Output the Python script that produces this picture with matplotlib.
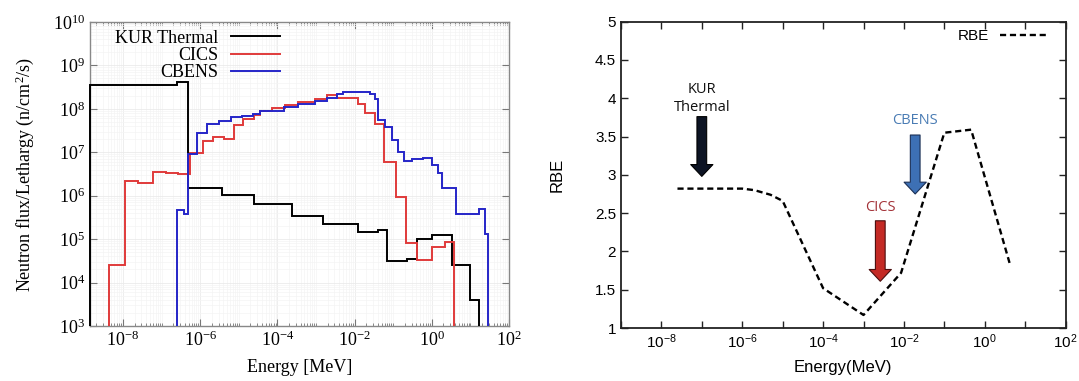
import math
import matplotlib
matplotlib.use("Agg")
import matplotlib.pyplot as plt
from matplotlib.ticker import FixedLocator, LogLocator, NullFormatter, FuncFormatter

# ---- left panel: neutron spectra (bin edges in MeV, flux per lethargy) ----
kur_edges = [1.4e-9, 2.5e-7, 4.9e-7, 3.65e-6, 2.46e-5, 2.37e-4, 1.51e-3, 1.21e-2,
             4.0e-2, 6.84e-2, 0.225, 0.409, 1.0, 3.3, 9.64, 16.5]
kur_flux = [3.53e8, 4.15e8, 1.54e6, 1.06e6, 6.4e5, 3.48e5, 2.28e5, 1.49e5,
            1.61e5, 3.11e4, 3.46e4, 1.0e5, 1.24e5, 2.52e4, 3.93e3]

cics_edges = [4.35e-9, 1.13e-8, 2.40e-8, 6.09e-8, 1.30e-7, 2.70e-7, 5.3e-7, 1.18e-6,
              2.18e-6, 4.19e-6, 7.48e-6, 1.26e-5, 2.46e-5, 3.52e-5, 7.08e-5, 1.56e-4,
              3.46e-4, 9.36e-4, 1.88e-3, 3.41e-3, 1.24e-2, 1.84e-2, 3.34e-2, 5.72e-2,
              0.117, 0.212, 0.421, 1.0, 2.17, 3.78]
cics_flux = [2.52e4, 2.17e6, 1.92e6, 3.44e6, 3.26e6, 3.10e6, 9.84e6, 1.81e7,
             2.30e7, 2.02e7, 4.24e7, 5.82e7, 7.19e7, 8.9e7, 1.06e8, 1.22e8,
             1.46e8, 1.68e8, 2.03e8, 1.73e8, 1.26e8, 8.0e7, 4.59e7, 6.1e6,
             9.44e5, 7.96e4, 3.28e4, 6.44e4, 8.4e4]

cbens_edges = [2.46e-7, 3.80e-7, 4.9e-7, 8.24e-7, 1.50e-6, 3.11e-6, 6.25e-6, 1.18e-5,
               2.36e-5, 3.52e-5, 1.50e-4, 3.46e-4, 9.36e-4, 1.88e-3, 3.41e-3, 5.06e-3,
               2.48e-2, 3.34e-2, 4.07e-2, 6.07e-2, 9.21e-2, 0.134, 0.194, 0.316,
               0.596, 1.0, 1.43, 1.89, 4.18, 16.8, 24.6, 28.7]
cbens_flux = [4.66e5, 3.71e5, 8.95e6, 2.77e7, 4.39e7, 5.24e7, 6.37e7, 6.82e7,
              7.47e7, 8.9e7, 1.08e8, 1.27e8, 1.54e8, 1.80e8, 2.16e8, 2.40e8,
              2.25e8, 1.64e8, 5.52e7, 3.87e7, 1.96e7, 1.04e7, 6.27e6, 6.86e6,
              7.23e6, 5.07e6, 3.41e6, 1.50e6, 3.71e5, 5.05e5, 1.30e5]

flux_ticks = [1e3, 1e4, 1e5, 1e6, 1e7, 1e8, 1e9, 1e10]
energy_ticks = [1e-8, 1e-6, 1e-4, 1e-2, 1e0, 1e2]

# ---- right panel: RBE vs energy ----
rbe_energy = [2.5e-8, 1e-6, 2e-6, 5e-6, 1e-5, 1e-4, 1e-3, 8.5e-3, 1e-1, 0.46, 4.1]
rbe_value = [2.82, 2.82, 2.80, 2.74, 2.66, 1.52, 1.17, 1.72, 3.55, 3.59, 1.85]
rbe_ticks = [1, 1.5, 2, 2.5, 3, 3.5, 4, 4.5, 5]

# arrow markers
arrow_labels = ["KUR\nThermal", "CICS", "CBENS"]
arrow_energy = [1e-7, 2.6e-3, 1.9e-2]
arrow_top = [3.76, 2.40, 3.52]
arrow_tip = [2.98, 1.61, 2.75]
arrow_label_y = [4.0, 2.57, 3.71]
arrow_fill = ["#0d1424", "#c42a25", "#3d70b5"]
arrow_edge = ["#000000", "#4a0e0e", "#1b2f55"]
arrow_text_color = ["#111111", "#a33238", "#4a7cb4"]


def pow10_label(v, pos):
    return r"$\mathregular{10^{%d}}$" % int(round(math.log10(v)))


def even_pow10_label(v, pos):
    e = int(round(math.log10(v)))
    return pow10_label(v, pos) if e % 2 == 0 else ""


fig = plt.figure(figsize=(10.79, 3.81), dpi=100)

# ================= left panel =================
serif = "Liberation Serif"
ax1 = fig.add_axes([0.0834, 0.1444, 0.3883, 0.798])
ax1.stairs(kur_flux, kur_edges, baseline=1e3, color="black", lw=1.4,
           clip_on=False, label="KUR Thermal", zorder=3)
ax1.stairs(cics_flux, cics_edges, baseline=1e3, color="#e03a3a", lw=1.4,
           clip_on=False, label="CICS", zorder=3)
ax1.stairs(cbens_flux, cbens_edges, baseline=1e3, color="#2525c8", lw=1.4,
           clip_on=False, label="CBENS", zorder=3)
ax1.set_xscale("log")
ax1.set_yscale("log")
ax1.set_xlim(1.4e-9, 1e2)
ax1.set_ylim(1e3, 1e10)
ax1.xaxis.set_major_locator(FixedLocator(energy_ticks))
ax1.xaxis.set_minor_locator(LogLocator(base=10, subs=range(1, 10), numticks=30))
ax1.xaxis.set_minor_formatter(NullFormatter())
ax1.yaxis.set_major_locator(FixedLocator(flux_ticks))
ax1.yaxis.set_minor_locator(LogLocator(base=10, subs=range(2, 10), numticks=30))
ax1.yaxis.set_minor_formatter(NullFormatter())
ax1.xaxis.set_major_formatter(FuncFormatter(pow10_label))
ax1.yaxis.set_major_formatter(FuncFormatter(pow10_label))
ax1.tick_params(which="both", direction="in", top=True, right=True, colors="#777777",
                labelcolor="black", labelsize=13)
ax1.tick_params(which="major", length=5)
ax1.tick_params(which="minor", length=2.5)
ax1.tick_params(axis="y", which="minor", length=0)
for lab in ax1.get_xticklabels() + ax1.get_yticklabels():
    lab.set_fontfamily(serif)
ax1.grid(which="major", color="#ebebeb", lw=0.6)
ax1.grid(which="minor", color="#f4f4f4", lw=0.5)
ax1.set_axisbelow(True)
for s in ax1.spines.values():
    s.set_color("#888888")
    s.set_linewidth(1.0)
ax1.set_xlabel("Energy [MeV]", fontsize=13, fontfamily=serif, labelpad=6)
ax1.set_ylabel(r"Neutron flux/Lethargy (n/cm$\mathregular{^2}$/s)", fontsize=13,
               fontfamily=serif, labelpad=12)
ax1.legend(loc="upper left", bbox_to_anchor=(0.06, 0.975), frameon=False,
           markerfirst=False, handlelength=2.7, handletextpad=0.7,
           labelspacing=0.02, borderpad=0, borderaxespad=0,
           prop={"family": serif, "size": 13})

# ================= right panel =================
sans = "Liberation Sans"
ax2 = fig.add_axes([0.5755, 0.1391, 0.4121, 0.804])
ax2.plot(rbe_energy, rbe_value, color="black", lw=1.7, ls=(0, (2.6, 1.6)), label="RBE")
ax2.set_xscale("log")
ax2.set_xlim(1e-9, 1e2)
ax2.set_ylim(1, 5)
ax2.xaxis.set_major_locator(LogLocator(base=10, numticks=30))
ax2.xaxis.set_minor_locator(LogLocator(base=10, subs=range(2, 10), numticks=30))
ax2.xaxis.set_minor_formatter(NullFormatter())
ax2.xaxis.set_major_formatter(FuncFormatter(even_pow10_label))
ax2.set_yticks(rbe_ticks)
ax2.set_yticklabels(["%g" % t for t in rbe_ticks])
ax2.tick_params(which="major", direction="in", top=True, right=True, length=5,
                width=1.0, labelsize=11, color="#222222")
ax2.tick_params(which="minor", length=0)
for lab in ax2.get_xticklabels() + ax2.get_yticklabels():
    lab.set_fontfamily(sans)
for s in ax2.spines.values():
    s.set_color("#222222")
    s.set_linewidth(1.3)
ax2.set_xlabel("Energy(MeV)", fontsize=12, fontfamily=sans, labelpad=6)
ax2.set_ylabel("RBE", fontsize=12, fontfamily=sans, labelpad=22)
ax2.legend(loc="upper right", bbox_to_anchor=(0.962, 0.975), frameon=False,
           markerfirst=False, handlelength=3.2, handletextpad=0.7,
           borderpad=0, borderaxespad=0, prop={"family": sans, "size": 11})

for i in range(len(arrow_labels)):
    ax2.annotate("", xy=(arrow_energy[i], arrow_tip[i]),
                 xytext=(arrow_energy[i], arrow_top[i]),
                 arrowprops=dict(arrowstyle="simple,head_length=0.85,head_width=1.6,tail_width=0.7",
                                 mutation_scale=10, fc=arrow_fill[i], ec=arrow_edge[i],
                                 lw=0.8, shrinkA=0, shrinkB=0))
    ax2.text(arrow_energy[i], arrow_label_y[i], arrow_labels[i], ha="center", va="center",
             fontsize=10.5, fontfamily="Open Sans", color=arrow_text_color[i],
             linespacing=1.25)

fig.savefig("out.png", dpi=100)
